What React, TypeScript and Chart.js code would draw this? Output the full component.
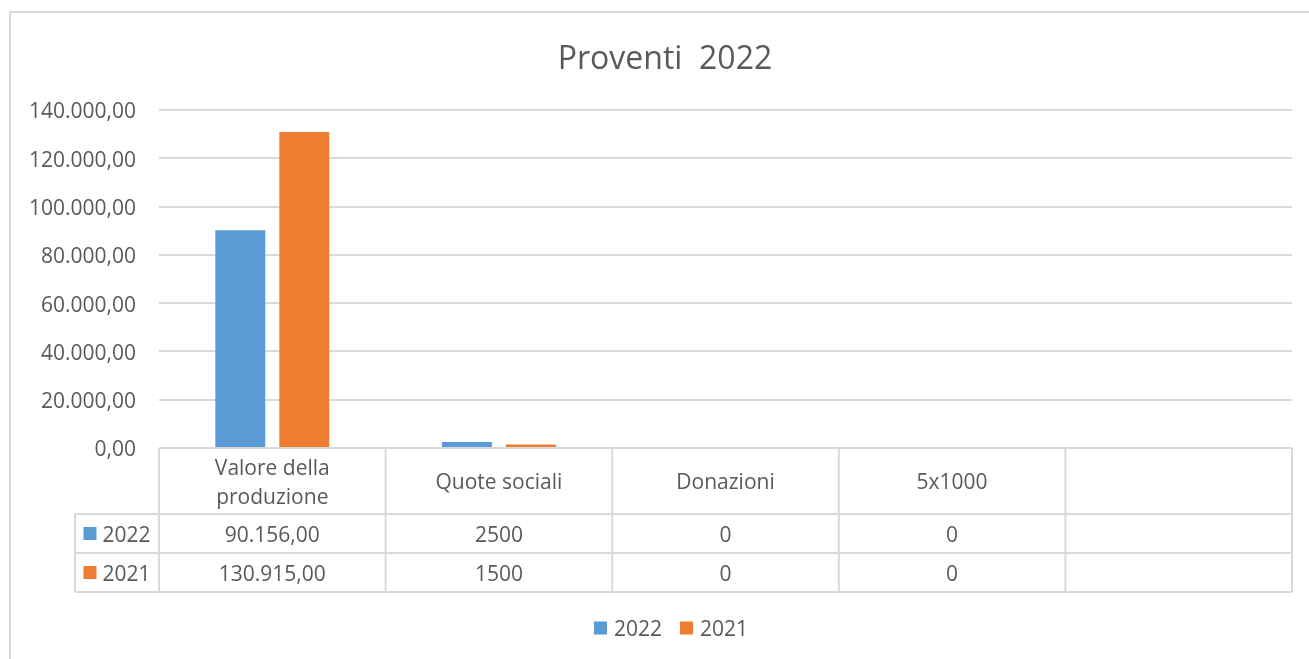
import { useEffect, useRef } from "react";
import { Chart, registerables } from "chart.js";

Chart.register(...registerables);

const chartTitle = "Proventi  2022";
const categories = ["Valore della produzione", "Quote sociali", "Donazioni", "5x1000", ""];
const seriesLabels = ["2022", "2021"];
const series2022: (number | null)[] = [90156, 2500, 0, 0, null];
const series2021: (number | null)[] = [130915, 1500, 0, 0, null];
const seriesColors = ["#5b9bd5", "#ed7d31"];
// how each table column prints its numbers: "decimal" = 90.156,00 ; "plain" = 2500
const tableFormats = ["decimal", "plain", "plain", "plain", "plain"];
const yMax = 140000;
const yStep = 20000;

const FONT = '"Open Sans", "Noto Sans", sans-serif';
const TEXT = "#595959";
const LINE = "#d9d9d9";
const TY = 2.5; // small baseline correction for "middle" text

function fmtIt(n: number, decimals: number): string {
  const fixed = Math.abs(n).toFixed(decimals);
  const [intPart, decPart] = fixed.split(".");
  const grouped = intPart.replace(/\B(?=(\d{3})+(?!\d))/g, ".");
  return (n < 0 ? "-" : "") + grouped + (decPart ? "," + decPart : "");
}

function fmtCell(v: number | null, kind: string): string {
  if (v === null || v === undefined) return "";
  return kind === "decimal" ? fmtIt(v, 2) : String(v);
}

function wrap(ctx: CanvasRenderingContext2D, text: string, maxW: number): string[] {
  const words = text.split(" ").filter((w) => w.length);
  const lines: string[] = [];
  let cur = "";
  for (const w of words) {
    const t = cur ? cur + " " + w : w;
    if (ctx.measureText(t).width > maxW && cur) {
      lines.push(cur);
      cur = w;
    } else cur = t;
  }
  if (cur) lines.push(cur);
  return lines;
}

const decorPlugin = {
  id: "decor",
  beforeDraw(chart: any) {
    const ctx = chart.ctx as CanvasRenderingContext2D;
    ctx.save();
    ctx.fillStyle = "#ffffff";
    ctx.fillRect(0, 0, chart.width, chart.height);
    ctx.strokeStyle = LINE;
    ctx.lineWidth = 2;
    ctx.strokeRect(10, 12, chart.width + 40, chart.height + 40);
    ctx.restore();
  },
  afterDraw(chart: any) {
    const ctx = chart.ctx as CanvasRenderingContext2D;
    const area = chart.chartArea;
    const xs = chart.scales.x;
    const n = categories.length;
    const colW = (area.right - area.left) / n;
    const top = area.bottom;
    const headerH = 66;
    const rowH = 39;
    const labelLeft = 75;
    const r1 = top + headerH;
    const r2 = r1 + rowH;
    const r3 = r2 + rowH;

    ctx.save();
    // title
    ctx.fillStyle = TEXT;
    ctx.font = `32px ${FONT}`;
    ctx.textAlign = "center";
    ctx.textBaseline = "middle";
    ctx.fillText(chartTitle, 665, 57 + TY);

    // table lines
    ctx.strokeStyle = LINE;
    ctx.lineWidth = 2;
    ctx.beginPath();
    ctx.moveTo(area.left, top);
    ctx.lineTo(area.right, top);
    for (const y of [r1, r2, r3]) {
      ctx.moveTo(labelLeft, y);
      ctx.lineTo(area.right, y);
    }
    for (let i = 0; i <= n; i++) {
      const x = area.left + i * colW;
      ctx.moveTo(x, top);
      ctx.lineTo(x, r3);
    }
    ctx.moveTo(labelLeft, r1);
    ctx.lineTo(labelLeft, r3);
    ctx.stroke();

    // header texts
    ctx.fillStyle = TEXT;
    ctx.font = `21px ${FONT}`;
    ctx.textAlign = "center";
    ctx.textBaseline = "middle";
    categories.forEach((c, i) => {
      const cx = xs.getPixelForValue(i);
      const lines = wrap(ctx, c, colW - 16);
      const lh = 29;
      const startY = top + headerH / 2 - ((lines.length - 1) * lh) / 2 + TY;
      lines.forEach((l, k) => ctx.fillText(l, cx, startY + k * lh));
    });

    // data rows
    const datasets = chart.data.datasets;
    datasets.forEach((ds: any, di: number) => {
      const rowTop = r1 + di * rowH;
      const cy = rowTop + rowH / 2;
      const label = String(ds.label);
      const tw = ctx.measureText(label).width;
      const total = 13 + 6 + tw;
      const sx = (labelLeft + area.left) / 2 - total / 2;
      ctx.fillStyle = ds.backgroundColor;
      ctx.fillRect(sx, cy - 6.5, 13, 13);
      ctx.fillStyle = TEXT;
      ctx.textAlign = "left";
      ctx.fillText(label, sx + 19, cy + TY);
      ctx.textAlign = "center";
      (ds.data as (number | null)[]).forEach((v, i) => {
        ctx.fillText(fmtCell(v, tableFormats[i]), xs.getPixelForValue(i), cy + TY);
      });
    });

    // legend
    let lx = 594;
    const ly = 628;
    ctx.textAlign = "left";
    datasets.forEach((ds: any) => {
      ctx.fillStyle = ds.backgroundColor;
      ctx.fillRect(lx, ly - 6.5, 13, 13);
      ctx.fillStyle = TEXT;
      ctx.fillText(String(ds.label), lx + 20, ly + TY);
      lx += 20 + ctx.measureText(String(ds.label)).width + 18;
    });
    ctx.restore();
  },
};

export default function App() {
  const ref = useRef<HTMLCanvasElement | null>(null);
  useEffect(() => {
    if (!ref.current) return;
    const chart = new Chart(ref.current, {
      type: "bar",
      data: {
        labels: categories,
        datasets: [
          { label: seriesLabels[0], data: series2022, backgroundColor: seriesColors[0], borderWidth: 0 },
          { label: seriesLabels[1], data: series2021, backgroundColor: seriesColors[1], borderWidth: 0 },
        ],
      },
      options: {
        animation: false,
        responsive: false,
        devicePixelRatio: 1,
        layout: { padding: { top: 110, left: 10, right: 17, bottom: 211 } },
        datasets: { bar: { categoryPercentage: 0.565, barPercentage: 0.78 } },
        plugins: {
          legend: { display: false },
          title: { display: false },
          tooltip: { enabled: false },
        },
        scales: {
          x: { display: false },
          y: {
            min: 0,
            max: yMax,
            afterFit: (s: any) => {
              s.width = 149;
            },
            border: { display: false },
            grid: { color: LINE, lineWidth: 2, drawTicks: false },
            ticks: {
              stepSize: yStep,
              padding: 23,
              labelOffset: 2.5,
              color: TEXT,
              font: { family: FONT, size: 21 },
              callback: (v: any) => fmtIt(Number(v), 2),
            },
          },
        },
      },
      plugins: [decorPlugin],
    });
    return () => chart.destroy();
  }, []);
  return (
    <div style={{ position: "fixed", left: 0, top: 0, width: 1309, height: 659, background: "#fff" }}>
      <canvas ref={ref} width={1309} height={659} style={{ display: "block" }} />
    </div>
  );
}
